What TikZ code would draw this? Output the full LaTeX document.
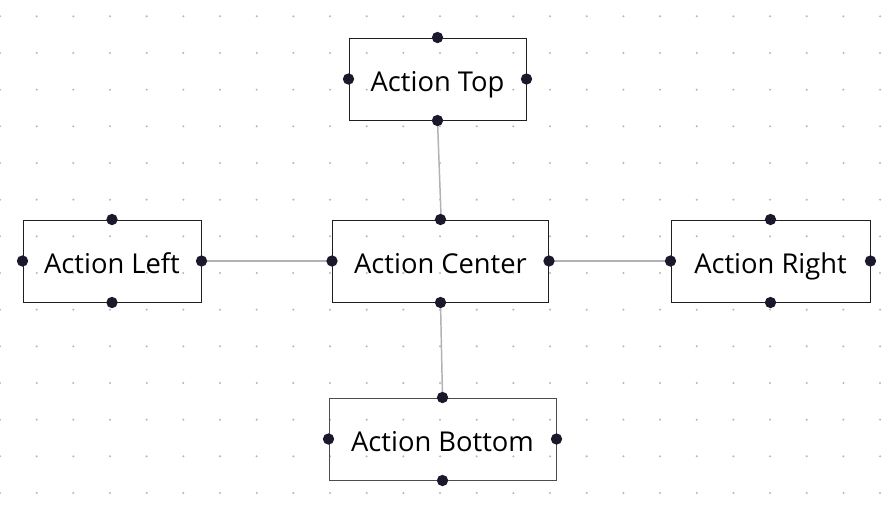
\documentclass[tikz,border=0pt]{standalone}
\usepackage{fontspec}
\setmainfont{Open Sans}
\definecolor{handle}{HTML}{1A192B}
\definecolor{edgecol}{HTML}{B1B1B7}
\definecolor{griddot}{HTML}{B8B8B8}
\begin{document}
\begin{tikzpicture}[x=0.75pt,y=-0.75pt,
  actbox/.style={draw=black!88,line width=0.75pt,rectangle,inner sep=0pt,text height=19pt,text depth=1pt,font=\fontsize{20.5}{24}\selectfont},
  hnd/.style={circle,fill=handle,inner sep=0pt,minimum size=8.5pt},
  edgeline/.style={draw=edgecol,line width=1.1pt}]
\useasboundingbox (0,0) rectangle (894,515);
\fill[white] (0,0) rectangle (894,515);
% dot grid
\foreach \i in {0,...,24}{
  \foreach \j in {0,...,13}{
    \fill[griddot] ({\i*36.67},{16.3+\j*36.67}) circle (0.85pt);
  }
}
% nodes
\node[actbox,minimum width=177*0.75pt,minimum height=82*0.75pt] (top) at (437.5,79) {Action Top};
\node[actbox,minimum width=178*0.75pt,minimum height=82*0.75pt] (left) at (112,261) {Action Left};
\node[actbox,minimum width=216*0.75pt,minimum height=82*0.75pt] (center) at (440.5,261) {Action Center};
\node[actbox,minimum width=199*0.75pt,minimum height=82*0.75pt] (right) at (770.5,261) {Action Right};
\node[actbox,draw=black!70,minimum width=227*0.75pt,minimum height=82*0.75pt] (bottom) at (442.5,439) {Action Bottom};
% edges
\draw[edgeline] (top.south) -- ([xshift=0.5pt]center.north);
\draw[edgeline] (center.south) -- (bottom.north);
\draw[edgeline] (left.east) -- (center.west);
\draw[edgeline] (center.east) -- (right.west);
% handles
\foreach \n in {top,left,center,right,bottom}{
  \node[hnd] (\n-hn) at (\n.north) {};
  \node[hnd] (\n-hs) at (\n.south) {};
  \node[hnd] (\n-hw) at (\n.west) {};
  \node[hnd] (\n-he) at (\n.east) {};
}
\end{tikzpicture}
\end{document}
